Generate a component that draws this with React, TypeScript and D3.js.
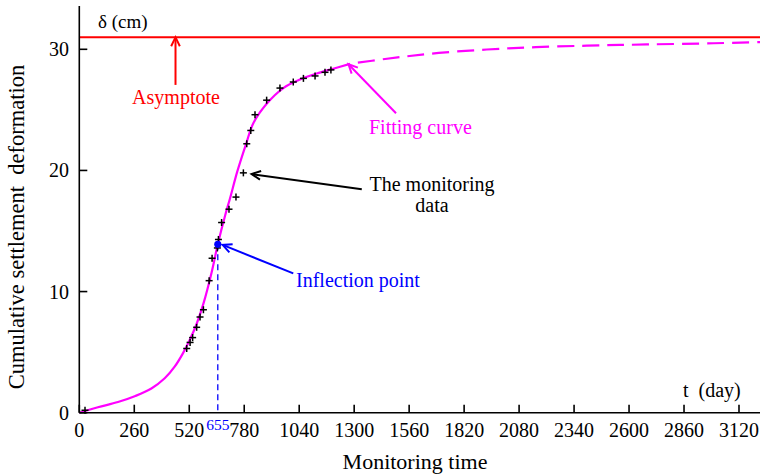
import React from "react";
import * as d3 from "d3";

const xTicks = [0, 260, 520, 780, 1040, 1300, 1560, 1820, 2080, 2340, 2600, 2860, 3120];
const yTicks = [0, 10, 20, 30];
const asymptote = 31;
const inflectionT = 655;
const inflectionV = 13.9;

// fitting curve: solid (fitted range) and dashed (prediction)
const fitSolid: [number, number][] = [
  [0, 0], [88, 0.45], [183, 0.88], [265, 1.38], [341, 2.0], [404, 2.84], [451, 3.8],
  [490, 4.9], [522, 6.0], [553, 7.24], [587, 9.0], [626, 11.6], [655, 13.9], [690, 16.3],
  [713, 17.7], [747, 19.9], [789, 22.2], [823, 23.9], [886, 25.5], [965, 26.8],
  [1044, 27.5], [1123, 28.0], [1201, 28.4], [1280, 28.8],
];
const fitDashed: [number, number][] = [
  [1280, 28.8], [1446, 29.2], [1700, 29.7], [2053, 30.1], [2400, 30.3],
  [2684, 30.4], [3000, 30.5], [3220, 30.6],
];

// monitoring data (crosses)
const monT = [27, 508, 524, 536, 555, 571, 587, 614, 628, 653, 658, 673, 708, 741, 776, 792, 811, 831, 886, 949, 1012, 1060, 1115, 1162, 1190];
const monV = [0.2, 5.3, 5.8, 6.2, 7.05, 7.9, 8.5, 10.9, 12.75, 13.6, 14.3, 15.7, 16.8, 17.8, 19.8, 22.2, 23.3, 24.6, 25.8, 26.8, 27.3, 27.6, 27.8, 28.1, 28.3];

const FONT = "'Liberation Serif', 'Times New Roman', serif";

export default function App() {
  const x = d3.scaleLinear().domain([0, 3120]).range([79.3, 739]);
  const y = d3.scaleLinear().domain([0, 30]).range([412.7, 49.3]);
  const line = d3
    .line<[number, number]>()
    .x((d) => x(d[0]))
    .y((d) => y(d[1]))
    .curve(d3.curveCatmullRom.alpha(0.5));

  const x0 = x(0);
  const y0 = y(0);

  const arrow = (
    t1: number, v1: number, t2: number, v2: number, color: string, key: string
  ) => {
    const xa = x(t1), ya = y(v1), xb = x(t2), yb = y(v2);
    const ang = Math.atan2(yb - ya, xb - xa);
    const L = 10, A = Math.PI / 7;
    const p1 = [xb - L * Math.cos(ang - A), yb - L * Math.sin(ang - A)];
    const p2 = [xb - L * Math.cos(ang + A), yb - L * Math.sin(ang + A)];
    return (
      <g key={key} stroke={color} strokeWidth={2} fill="none">
        <line x1={xa} y1={ya} x2={xb} y2={yb} />
        <polyline points={`${p1[0]},${p1[1]} ${xb},${yb} ${p2[0]},${p2[1]}`} />
      </g>
    );
  };

  return (
    <svg
      width={760}
      height={474}
      style={{ position: "absolute", left: 0, top: 0, background: "#fff" }}
      fontFamily={FONT}
    >
      <rect width={760} height={474} fill="#fff" />
      {/* asymptote */}
      <line x1={x0} x2={760} y1={y(asymptote)} y2={y(asymptote)} stroke="#ff0000" strokeWidth={2} />

      {/* fitting curve */}
      <path d={line(fitSolid) || ""} fill="none" stroke="#ff00ff" strokeWidth={2.2} />
      <path d={line(fitDashed) || ""} fill="none" stroke="#ff00ff" strokeWidth={2.2} strokeDasharray="17 8" strokeDashoffset={-8} />

      {/* inflection dashed line */}
      <line x1={x(inflectionT)} x2={x(inflectionT)} y1={y(inflectionV)} y2={y0} stroke="#0000ff" strokeWidth={1.3} strokeDasharray="6 4" />

      {/* monitoring data crosses */}
      <g stroke="#000" strokeWidth={1.5}>
        {monT.map((t, i) => {
          const cx = x(t), cy = y(monV[i]);
          return (
            <g key={i}>
              <line x1={cx - 3.5} x2={cx + 3.5} y1={cy} y2={cy} />
              <line x1={cx} x2={cx} y1={cy - 3.5} y2={cy + 3.5} />
            </g>
          );
        })}
      </g>

      {/* inflection point */}
      <circle cx={x(inflectionT)} cy={y(inflectionV)} r={3.6} fill="#0000ff" />

      {/* axes */}
      <g stroke="#000" strokeWidth={1.6}>
        <line x1={x0} x2={x0} y1={6} y2={y0} />
        <line x1={x0} x2={760} y1={y0} y2={y0} />
        {xTicks.map((t) => (
          <line key={"xt" + t} x1={x(t)} x2={x(t)} y1={y0} y2={y0 - 8} />
        ))}
        {yTicks.map((v) => (
          <line key={"yt" + v} x1={x0} x2={x0 + 8} y1={y(v)} y2={y(v)} />
        ))}
      </g>
      <g fontSize={20} fill="#000" fontFamily={FONT}>
        {xTicks.map((t) => (
          <text key={"xl" + t} x={x(t)} y={437} textAnchor="middle">
            {t}
          </text>
        ))}
        {yTicks.map((v) => (
          <text key={"yl" + v} x={69} y={y(v) + 7} textAnchor="end">
            {v}
          </text>
        ))}
      </g>
      <text x={x(inflectionT)} y={430} textAnchor="middle" fontSize={15.5} fill="#0000ff" fontFamily={FONT}>
        {inflectionT}
      </text>

      {/* axis titles */}
      <text x={415} y={469} textAnchor="middle" fontSize={22} fill="#000" fontFamily={FONT}>
        Monitoring time
      </text>
      <text
        transform="translate(24,227) rotate(-90)"
        textAnchor="middle"
        fontSize={22.5}
        fill="#000"
        fontFamily={FONT}
        style={{ whiteSpace: "pre" }}
      >
        {"Cumulative settlement\u00A0\u00A0deformation"}
      </text>
      <text x={98} y={28} fontSize={19} fill="#000" fontFamily={FONT}>δ (cm)</text>
      <text x={683} y={397} fontSize={20} fill="#000" fontFamily={FONT} style={{ whiteSpace: "pre" }}>
        {"t\u00A0\u00A0(day)"}
      </text>

      {/* annotations */}
      {arrow(455, 27.06, 455, asymptote, "#ff0000", "a1")}
      <text x={176} y={104} textAnchor="middle" fontSize={20} fill="#ff0000" fontFamily={FONT}>Asymptote</text>

      {arrow(1498, 24.72, 1273, 28.77, "#ff00ff", "a2")}
      <text x={369} y={134} fontSize={20} fill="#ff00ff" fontFamily={FONT}>Fitting curve</text>

      {arrow(1336, 18.45, 815, 19.7, "#000", "a3")}
      <text x={432} y={191} textAnchor="middle" fontSize={20} fill="#000" fontFamily={FONT}>The monitoring</text>
      <text x={432} y={212} textAnchor="middle" fontSize={20} fill="#000" fontFamily={FONT}>data</text>

      {arrow(1012, 11.5, 678, 13.85, "#0000ff", "a4")}
      <text x={296} y={287} fontSize={20} fill="#0000ff" fontFamily={FONT}>Inflection point</text>
    </svg>
  );
}
